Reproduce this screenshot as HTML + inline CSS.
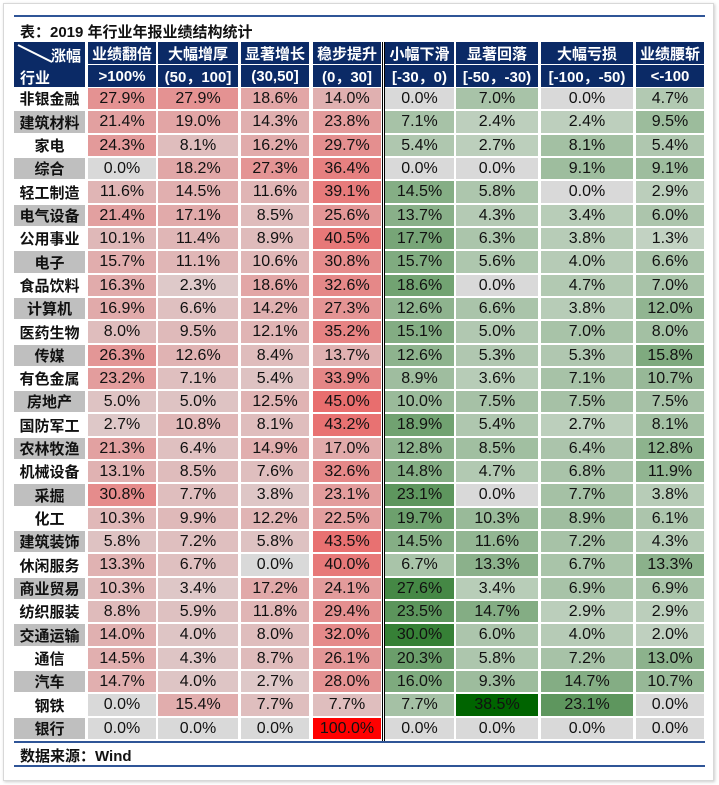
<!DOCTYPE html>
<html><head><meta charset="utf-8">
<style>
body{margin:0;background:#fff;width:719px;height:785px;overflow:hidden;font-family:"Liberation Sans","Noto Sans CJK SC",sans-serif;}
#frame{position:absolute;left:3px;top:3px;width:709px;height:776px;border:1px solid #d8d8d8;box-shadow:1px 1px 3px #ccc;background:#fff}
.abs{position:absolute}
.cell{position:absolute;display:flex;align-items:center;justify-content:center;font-size:16px;color:#111;box-sizing:border-box}
.hd{background:#0b2a66;color:#fff;font-weight:bold;font-size:15px;}
.lab{font-weight:bold;font-size:15px}
</style></head><body>
<div id="frame"></div>
<div class="abs" style="left:14px;top:15px;width:691px;height:2px;background:#2f5597"></div>
<div class="abs" style="left:20px;top:21px;font-size:15px;font-weight:bold;color:#111">表：2019 年行业年报业绩结构统计</div>
<div id="tbl"></div>
<div class="abs" style="left:382px;top:42px;width:1px;height:700px;background:#000"></div>
<div class="abs" style="left:384px;top:42px;width:1px;height:700px;background:#000"></div>
<div class="abs" style="left:14px;top:741px;width:691px;height:2px;background:#2f5597"></div>
<div class="abs" style="left:20px;top:745px;font-size:15px;font-weight:bold;color:#111">数据来源：Wind</div>
<div class="abs" style="left:14px;top:765px;width:691px;height:2px;background:#2f5597"></div>
<script>
const headers1=["业绩翻倍","大幅增厚","显著增长","稳步提升","小幅下滑","显著回落","大幅亏损","业绩腰斩"];
const headers2=[">100%","(50，100]","(30,50]","(0，30]","[-30，0)","[-50，-30)","[-100，-50)","<-100"];
const industries=["非银金融","建筑材料","家电","综合","轻工制造","电气设备","公用事业","电子","食品饮料","计算机","医药生物","传媒","有色金属","房地产","国防军工","农林牧渔","机械设备","采掘","化工","建筑装饰","休闲服务","商业贸易","纺织服装","交通运输","通信","汽车","钢铁","银行"];
const values=[
[27.9,27.9,18.6,14.0,0.0,7.0,0.0,4.7],
[21.4,19.0,14.3,23.8,7.1,2.4,2.4,9.5],
[24.3,8.1,16.2,29.7,5.4,2.7,8.1,5.4],
[0.0,18.2,27.3,36.4,0.0,0.0,9.1,9.1],
[11.6,14.5,11.6,39.1,14.5,5.8,0.0,2.9],
[21.4,17.1,8.5,25.6,13.7,4.3,3.4,6.0],
[10.1,11.4,8.9,40.5,17.7,6.3,3.8,1.3],
[15.7,11.1,10.6,30.8,15.7,5.6,4.0,6.6],
[16.3,2.3,18.6,32.6,18.6,0.0,4.7,7.0],
[16.9,6.6,14.2,27.3,12.6,6.6,3.8,12.0],
[8.0,9.5,12.1,35.2,15.1,5.0,7.0,8.0],
[26.3,12.6,8.4,13.7,12.6,5.3,5.3,15.8],
[23.2,7.1,5.4,33.9,8.9,3.6,7.1,10.7],
[5.0,5.0,12.5,45.0,10.0,7.5,7.5,7.5],
[2.7,10.8,8.1,43.2,18.9,5.4,2.7,8.1],
[21.3,6.4,14.9,17.0,12.8,8.5,6.4,12.8],
[13.1,8.5,7.6,32.6,14.8,4.7,6.8,11.9],
[30.8,7.7,3.8,23.1,23.1,0.0,7.7,3.8],
[10.3,9.9,12.2,22.5,19.7,10.3,8.9,6.1],
[5.8,7.2,5.8,43.5,14.5,11.6,7.2,4.3],
[13.3,6.7,0.0,40.0,6.7,13.3,6.7,13.3],
[10.3,3.4,17.2,24.1,27.6,3.4,6.9,6.9],
[8.8,5.9,11.8,29.4,23.5,14.7,2.9,2.9],
[14.0,4.0,8.0,32.0,30.0,6.0,4.0,2.0],
[14.5,4.3,8.7,26.1,20.3,5.8,7.2,13.0],
[14.7,4.0,2.7,28.0,16.0,9.3,14.7,10.7],
[0.0,15.4,7.7,7.7,7.7,38.5,23.1,0.0],
[0.0,0.0,0.0,100.0,0.0,0.0,0.0,0.0]];
const colX=[88,158,241,313,385,456,541,636], colW=[68,80,68,68,69,82,92,68];
const rowY0=88, rowH=23.32;
function lerp(a,b,t){return a.map((v,i)=>Math.round(v+(b[i]-v)*t));}
function color(v,c){
  if(v===0) return "rgb(217,217,217)";
  let rgb;
  if(c<4){
    if(v<=45) rgb=lerp([221,206,206],[232,110,110],v/45);
    else rgb=lerp([232,110,110],[255,0,0],(v-45)/55);
  } else {
    if(v<=25) rgb=lerp([200,214,200],[85,145,85],v/25);
    else rgb=lerp([85,145,85],[0,100,0],Math.min(1,(v-25)/13.5));
  }
  return "rgb("+rgb.join(",")+")";
}
const tbl=document.getElementById('tbl');
function mk(cls,x,y,w,h,txt,bg){
  const d=document.createElement('div');d.className=cls;
  d.style.left=x+'px';d.style.top=y+'px';d.style.width=w+'px';d.style.height=h+'px';
  if(bg)d.style.background=bg;d.textContent=txt;tbl.appendChild(d);return d;
}
const corner=mk('cell hd',14,42,71,45,'','#0b2a66');


corner.innerHTML='<svg width="71" height="45" style="position:absolute;left:0;top:0"><line x1="4" y1="3" x2="38" y2="20" stroke="#fff" stroke-width="2"/></svg><span style="position:absolute;right:4px;top:3px">涨幅</span><span style="position:absolute;left:6px;top:25px">行业</span>';
headers1.forEach((h,c)=>{
  const a=mk('cell hd',colX[c],42,colW[c],22,h);
  
  
  const b=mk('cell hd',colX[c],65,colW[c],22,headers2[c]);
  
  
});
industries.forEach((ind,r)=>{
  const y=Math.round(rowY0+r*rowH), h=Math.round(rowY0+(r+1)*rowH)-y-2;
  const l=mk('cell lab',14,y,71,h,ind,r%2?'#bfbfbf':'#fff');
  
  
  values[r].forEach((v,c)=>{
    const d=mk('cell',colX[c],y,colW[c],h,v.toFixed(1)+'%',color(v,c));
    
    
  });
});
</script>
</body></html>
